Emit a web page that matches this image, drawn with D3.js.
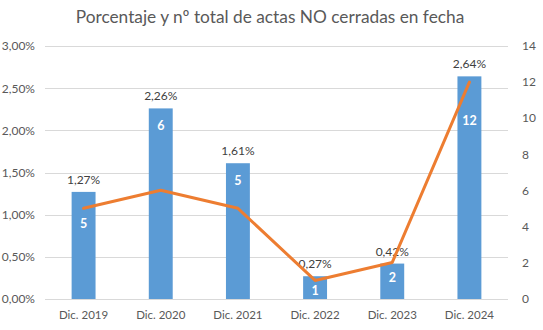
<!DOCTYPE html>
<html>
<head>
<meta charset="utf-8">
<script src="https://cdn.jsdelivr.net/npm/d3@7"></script>
<style>
  html, body { margin: 0; padding: 0; background: #fff; }
  svg { display: block; font-family: Lato, "Liberation Sans", sans-serif; }
</style>
</head>
<body>
<svg id="chart" width="543" height="330"></svg>
<script>
// Periods, share of records not closed on time (%) and their count
const categories = ["Dic. 2019", "Dic. 2020", "Dic. 2021", "Dic. 2022", "Dic. 2023", "Dic. 2024"];
const percentValues = [1.27, 2.26, 1.61, 0.27, 0.42, 2.64];
const countValues = [5, 6, 5, 1, 2, 12];
const percentTicks = [0, 0.5, 1, 1.5, 2, 2.5, 3];
const countTicks = [0, 2, 4, 6, 8, 10, 12, 14];

// Vertical offset of each count label below its bar top
const countLabelDy = [32, 17, 17.5, 14, 14, 44];

const title = "Porcentaje y nº total de actas NO cerradas en fecha";
const textColor = "#595959";
const gridColor = "#d9d9d9";
const barColor = "#5b9bd5";
const lineColor = "#ed7d31";

const svg = d3.select("#chart");
const plot = { left: 45, right: 508, top: 46, bottom: 299 };

const fmtPct = v => v.toFixed(2).replace(".", ",") + "%";

const x = d3.scaleBand().domain(categories).range([plot.left, plot.right]).paddingInner(0.69).paddingOuter(0.345);
const yPct = d3.scaleLinear().domain([0, 3]).range([plot.bottom, plot.top]);
const yCnt = d3.scaleLinear().domain([0, 14]).range([plot.bottom - 0.5, plot.top]);
const cx = c => x(c) + x.bandwidth() / 2;

// Title
svg.append("text")
  .attr("x", 270).attr("y", 23)
  .attr("text-anchor", "middle")
  .attr("fill", textColor)
  .style("font-size", "17.3px")
  .text(title);

// Gridlines
svg.append("g").selectAll("line").data(percentTicks).join("line")
  .attr("x1", plot.left).attr("x2", plot.right)
  .attr("y1", d => Math.round(yPct(d)) + 0.5).attr("y2", d => Math.round(yPct(d)) + 0.5)
  .attr("stroke", gridColor).attr("stroke-width", 1);

// Left axis (percent)
const leftAxis = svg.append("g")
  .attr("transform", `translate(${plot.left},0)`)
  .call(d3.axisLeft(yPct).tickValues(percentTicks).tickSize(0).tickPadding(10).tickFormat(fmtPct));
leftAxis.select(".domain").remove();
leftAxis.selectAll("text").attr("fill", textColor).style("font-size", "12px").style("font-family", "Lato, sans-serif");

// Right axis (count)
const rightAxis = svg.append("g")
  .attr("transform", `translate(${plot.right},0)`)
  .call(d3.axisRight(yCnt).tickValues(countTicks).tickSize(0).tickPadding(14).tickFormat(d3.format("d")));
rightAxis.select(".domain").remove();
rightAxis.selectAll("text").attr("fill", textColor).style("font-size", "12px").style("font-family", "Lato, sans-serif");

// Bottom axis (categories)
const bottomAxis = svg.append("g")
  .attr("transform", `translate(0,${plot.bottom})`)
  .call(d3.axisBottom(x).tickSize(0).tickPadding(12));
bottomAxis.select(".domain").remove();
bottomAxis.selectAll("text").attr("fill", textColor).style("font-size", "11.5px").style("font-family", "Lato, sans-serif");

// Bars
svg.append("g").selectAll("rect").data(categories).join("rect")
  .attr("x", c => x(c))
  .attr("width", x.bandwidth())
  .attr("y", (c, i) => yPct(percentValues[i]))
  .attr("height", (c, i) => plot.bottom - yPct(percentValues[i]))
  .attr("fill", barColor);

// Percent labels above bars
svg.append("g").selectAll("text").data(categories).join("text")
  .attr("x", c => cx(c))
  .attr("y", (c, i) => yPct(percentValues[i]) - 8)
  .attr("text-anchor", "middle")
  .attr("fill", "#404040")
  .style("font-size", "12px")
  .text((c, i) => fmtPct(percentValues[i]));

// Count line
const line = d3.line().x(d => cx(d.c)).y(d => yCnt(d.v));
svg.append("path")
  .datum(categories.map((c, i) => ({ c, v: countValues[i] })))
  .attr("d", line)
  .attr("fill", "none")
  .attr("stroke", lineColor)
  .attr("stroke-width", 3)
  .attr("stroke-linejoin", "round")
  .attr("stroke-linecap", "round");

// Count labels inside bars
svg.append("g").selectAll("text").data(categories).join("text")
  .attr("x", c => cx(c))
  .attr("y", (c, i) => yPct(percentValues[i]) + countLabelDy[i] + 4.5)
  .attr("text-anchor", "middle")
  .attr("fill", "#fff")
  .style("font-size", "12.5px")
  .style("font-weight", "bold")
  .text((c, i) => countValues[i]);
</script>
</body>
</html>
